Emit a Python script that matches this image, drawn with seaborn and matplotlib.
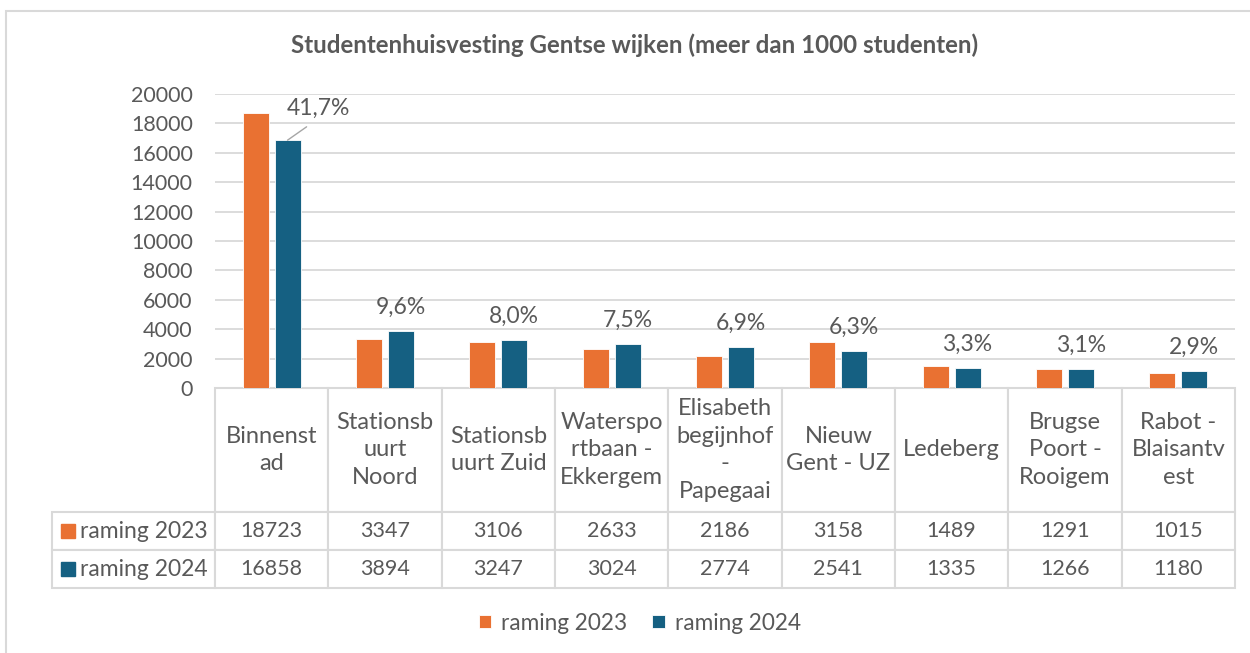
import pandas as pd
import seaborn as sns
import matplotlib.pyplot as plt
from matplotlib.patches import Rectangle

# data
wijken = ["Binnenstad", "Stationsbuurt Noord", "Stationsbuurt Zuid",
          "Watersportbaan - Ekkergem", "Elisabethbegijnhof - Papegaai",
          "Nieuw Gent - UZ", "Ledeberg", "Brugse Poort - Rooigem",
          "Rabot - Blaisantvest"]
# header labels as wrapped in the original table
wijk_labels = ["Binnenst\nad", "Stationsb\nuurt\nNoord", "Stationsb\nuurt Zuid",
               "Waterspo\nrtbaan -\nEkkergem", "Elisabeth\nbegijnhof\n-\nPapegaai",
               "Nieuw\nGent - UZ", "Ledeberg", "Brugse\nPoort -\nRooigem",
               "Rabot -\nBlaisantv\nest"]
raming_2023 = [18723, 3347, 3106, 2633, 2186, 3158, 1489, 1291, 1015]
raming_2024 = [16858, 3894, 3247, 3024, 2774, 2541, 1335, 1266, 1180]
aandeel = ["41,7%", "9,6%", "8,0%", "7,5%", "6,9%", "6,3%", "3,3%", "3,1%", "2,9%"]
series = ["raming 2023", "raming 2024"]

ORANGE = "#E97132"
BLUE = "#156082"
GREY = "#595959"
LINE = "#D9D9D9"

df = pd.DataFrame({
    "wijk": wijken * 2,
    "jaar": [series[0]] * len(wijken) + [series[1]] * len(wijken),
    "aantal": raming_2023 + raming_2024,
})

sns.set_theme(style="white")
plt.rcParams["font.family"] = ["Lato", "DejaVu Sans"]

W, H = 1250, 653
AX_W, AX_H = 1020, 294
fig = plt.figure(figsize=(W / 100, H / 100), dpi=100)
ax = fig.add_axes([215 / W, 1 - 388 / H, AX_W / W, AX_H / H])

sns.barplot(data=df, x="wijk", y="aantal", hue="jaar", palette=[ORANGE, BLUE],
            saturation=1, width=0.56, gap=0.18, edgecolor="white",
            linewidth=0.6, legend=False, ax=ax)

ax.set_ylim(0, 20000)
ax.set_yticks(range(0, 20001, 2000))
ax.set_xticks([])
ax.set_xlabel("")
ax.set_ylabel("")
ax.tick_params(axis="y", length=0, pad=16, labelsize=15.5, labelcolor=GREY)
ax.grid(axis="y", color=LINE, linewidth=1.3)
ax.set_axisbelow(True)
sns.despine(ax=ax, left=True, bottom=True)

# percentage labels above the 2024 bars
for i, (bar, txt) in enumerate(zip(ax.containers[1], aandeel)):
    x = bar.get_x() + bar.get_width() / 2
    y = bar.get_height()
    if i == 0:
        # first label sits beside the bar with a leader line
        ax.annotate(txt, (x, y), xytext=(22, 23), textcoords="offset points",
                    ha="center", va="center", fontsize=16.5, color=GREY,
                    arrowprops=dict(arrowstyle="-", color="#A6A6A6", lw=1,
                                    relpos=(0.5, 0), shrinkA=6, shrinkB=0))
    else:
        ax.annotate(txt, (x, y), xytext=(0, 17), textcoords="offset points",
                    ha="center", va="center", fontsize=16.5, color=GREY)

# data table under the plot
cell_text = [[str(v) for v in raming_2023], [str(v) for v in raming_2024]]
tab = ax.table(cellText=cell_text, colLabels=wijk_labels,
               cellLoc="center", loc="bottom")
# row labels as fixed-width cells (no auto width)
for r, name in enumerate(series, start=1):
    tab.add_cell(r, -1, 163 / AX_W, 38 / AX_H, text=name, loc="left")
tab.auto_set_font_size(False)
tab.set_fontsize(15.5)
for (r, c), cell in tab.get_celld().items():
    cell.set_edgecolor(LINE)
    cell.set_linewidth(1.5)
    cell.get_text().set_color(GREY)
    cell.set_height((124 if r == 0 else 38) / AX_H)
    if c >= 0:
        cell.set_width(1 / len(wijken))
    else:
        cell.PAD = 0.17
        cell.get_text().set_fontsize(16.5)
    if r == 0:
        cell.get_text().set_fontsize(17)
        cell.get_text().set_linespacing(1.4)

# colour keys in the row labels
for k, col in enumerate([ORANGE, BLUE]):
    yk = 524 + k * 38
    fig.patches.append(Rectangle((61 / W, 1 - (yk + 14) / H), 14 / W, 14 / H,
                                 transform=fig.transFigure, color=col))

fig.suptitle("Studentenhuisvesting Gentse wijken (meer dan 1000 studenten)",
             x=0.508, y=1 - 45 / H, va="center", fontsize=17.4,
             fontweight="bold", color=GREY)

leg = fig.legend([ax.containers[0][0], ax.containers[1][0]], series,
                 loc="center", bbox_to_anchor=(0.512, 1 - 623 / H), ncol=2,
                 frameon=False, fontsize=16.3, handlelength=0.55,
                 handleheight=0.55, handletextpad=0.45, columnspacing=1.1,
                 labelcolor=GREY)

# chart border
fig.patches.append(Rectangle((6 / W, -0.1), 2, 1.1 - 11 / H,
                             transform=fig.transFigure, fill=False,
                             edgecolor=LINE, linewidth=1.5))

fig.savefig("out.png", dpi=100)
